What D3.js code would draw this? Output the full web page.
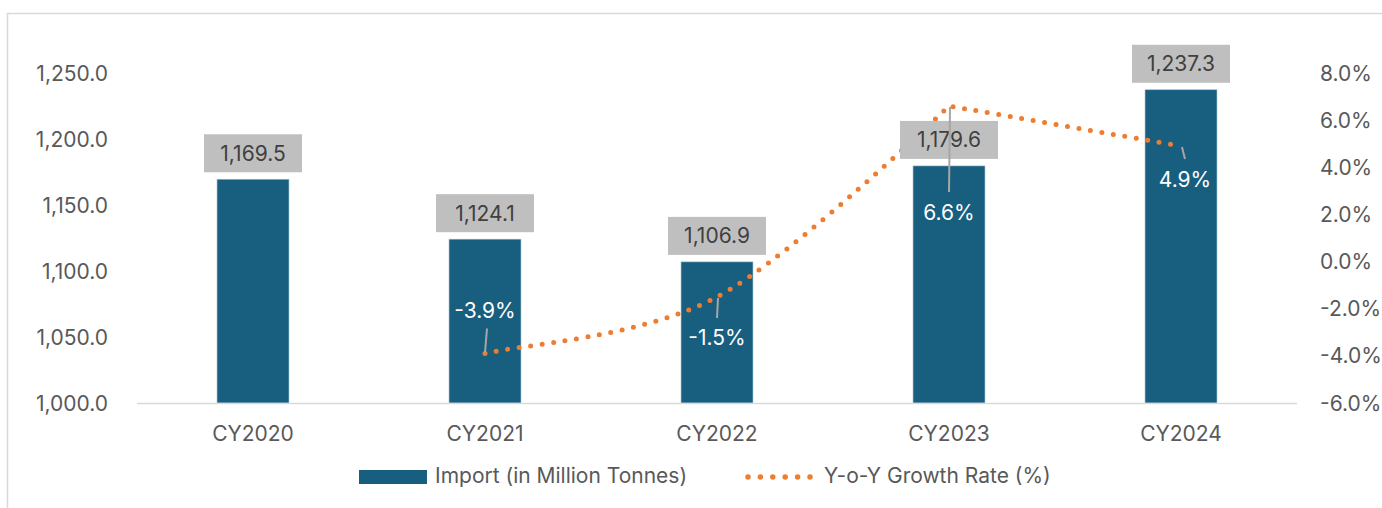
<!DOCTYPE html>
<html>
<head>
<meta charset="utf-8">
<script src="https://d3js.org/d3.v7.min.js"></script>
<style>
body { margin: 0; background: #fff; }
svg { display: block; font-family: Inter, "Liberation Sans", sans-serif; }
</style>
</head>
<body>
<div id="chart"></div>
<script>
// chart values
var years = ["CY2020", "CY2021", "CY2022", "CY2023", "CY2024"];
var imports = [1169.5, 1124.1, 1106.9, 1179.6, 1237.3];
var growth = [null, -3.9, -1.5, 6.6, 4.9];
var leftTicks = [1000, 1050, 1100, 1150, 1200, 1250];
var rightTicks = [-6, -4, -2, 0, 2, 4, 6, 8];
var legendNames = ["Import (in Million Tonnes)", "Y-o-Y Growth Rate (%)"];

var width = 1382, height = 508;
var plotLeft = 137, plotRight = 1297, plotTop = 73, plotBottom = 403;
var barColor = "#175e7f", lineColor = "#ed7d31";

var svg = d3.select("#chart").append("svg")
  .attr("width", width).attr("height", height);

// frame (only top and left edges show in the crop)
svg.append("path")
  .attr("d", "M7.5," + height + "V13.5H" + width)
  .attr("fill", "none").attr("stroke", "#d9d9d9").attr("stroke-width", 1.5);

var x = d3.scaleBand().domain(years).range([plotLeft, plotRight])
  .paddingInner(0.69).paddingOuter(0.345);
var yL = d3.scaleLinear().domain([1000, 1250]).range([plotBottom, plotTop]);
var yR = d3.scaleLinear().domain([-6, 8]).range([plotBottom, plotTop]);
var cx = function (d) { return x(d) + x.bandwidth() / 2; };

// plain hyphen for negatives, like Excel
var locale = d3.formatLocale({ decimal: ".", thousands: ",", grouping: [3], currency: ["", ""], minus: "-" });
var fmtL = locale.format(",.1f");
var fmt1 = locale.format(".1f");
var fmtR = function (v) { return fmt1(v) + "%"; };

// left axis labels
svg.append("g").selectAll("text").data(leftTicks).enter().append("text")
  .attr("x", 108).attr("y", function (d) { return yL(d); }).attr("dy", "0.36em")
  .attr("text-anchor", "end").attr("fill", "#595959").style("font-size", "21px")
  .text(fmtL);

// right axis labels
svg.append("g").selectAll("text").data(rightTicks).enter().append("text")
  .attr("x", 1320).attr("y", function (d) { return yR(d); }).attr("dy", "0.36em")
  .attr("fill", "#595959").style("font-size", "21px")
  .text(fmtR);

// bars
svg.append("g").selectAll("rect").data(years).enter().append("rect")
  .attr("x", function (d) { return x(d); })
  .attr("y", function (d, i) { return yL(imports[i]); })
  .attr("width", x.bandwidth())
  .attr("height", function (d, i) { return plotBottom - yL(imports[i]); })
  .attr("fill", barColor).attr("stroke", "#9dbccc").attr("stroke-width", 0.6);

// category axis
svg.append("line").attr("x1", plotLeft).attr("x2", plotRight)
  .attr("y1", plotBottom + 0.5).attr("y2", plotBottom + 0.5)
  .attr("stroke", "#d9d9d9").attr("stroke-width", 1.5);
svg.append("g").selectAll("text").data(years).enter().append("text")
  .attr("x", cx).attr("y", 441).attr("text-anchor", "middle")
  .attr("fill", "#595959").style("font-size", "21px").text(function (d) { return d; });

// growth line: bezier smoothing roughly like Excel's "smoothed line"
// (catmull-rom tangents, no tangent at a peak so it doesn't overshoot)
var pts = [];
years.forEach(function (d, i) {
  if (growth[i] !== null) pts.push([cx(d), yR(growth[i])]);
});
function smoothPath(p) {
  var n = p.length, tan = [];
  for (var i = 0; i < n; i++) {
    var a = p[Math.max(i - 1, 0)], b = p[Math.min(i + 1, n - 1)];
    var t = [(b[0] - a[0]) / 6, (b[1] - a[1]) / 6];
    if (i > 0 && i < n - 1 && (p[i][1] - a[1]) * (b[1] - p[i][1]) < 0) t = [0, 0];
    tan.push(t);
  }
  var path = d3.path();
  path.moveTo(p[0][0], p[0][1]);
  for (var j = 1; j < n; j++) {
    path.bezierCurveTo(p[j - 1][0] + tan[j - 1][0], p[j - 1][1] + tan[j - 1][1],
      p[j][0] - tan[j][0], p[j][1] - tan[j][1], p[j][0], p[j][1]);
  }
  return path.toString();
}
svg.append("path").attr("d", smoothPath(pts))
  .attr("fill", "none").attr("stroke", lineColor).attr("stroke-width", 5)
  .attr("stroke-linecap", "round").attr("stroke-dasharray", "0 11.6");

// value label boxes
var vl = svg.append("g").selectAll("g").data(years).enter().append("g");
vl.each(function (d, i) {
  var g = d3.select(this);
  var bw = 98, bh = 38;
  var by = yL(imports[i]) - 7 - bh;
  g.append("rect").attr("x", cx(d) - bw / 2).attr("y", by).attr("width", bw).attr("height", bh)
    .attr("fill", "#bfbfbf");
  g.append("text").attr("x", cx(d)).attr("y", by + bh / 2).attr("dy", "0.36em")
    .attr("text-anchor", "middle").attr("fill", "#404040").style("font-size", "21px")
    .text(fmtL(imports[i]));
});

// growth labels, placed like the original with leader lines
var labelDx = [0, 0, 0, 0, 4];
var labelDy = [0, -43, 41, 106, 33];
years.forEach(function (d, i) {
  if (growth[i] === null) return;
  var px = cx(d), py = yR(growth[i]);
  var lx = px + labelDx[i], ly = py + labelDy[i];
  var above = labelDy[i] < 0;
  var endY = above ? ly + 18 : ly - 20;
  svg.append("line").attr("x1", px + (above ? 0 : 1)).attr("y1", py + (above ? -1 : 1))
    .attr("x2", lx + (above ? 2 : 0)).attr("y2", endY)
    .attr("stroke", "#a6a6a6").attr("stroke-width", 2);
  svg.append("text").attr("x", lx).attr("y", ly).attr("dy", "0.36em")
    .attr("text-anchor", "middle").attr("fill", "#fff").style("font-size", "21px")
    .text(fmtR(growth[i]));
});

// legend
var lg = svg.append("g");
lg.append("rect").attr("x", 359).attr("y", 470).attr("width", 68).attr("height", 14).attr("fill", barColor);
lg.append("text").attr("x", 435).attr("y", 483).attr("fill", "#595959").style("font-size", "21px").text(legendNames[0]);
lg.append("line").attr("x1", 748).attr("x2", 810).attr("y1", 477).attr("y2", 477)
  .attr("stroke", lineColor).attr("stroke-width", 5.5).attr("stroke-linecap", "round")
  .attr("stroke-dasharray", "0 12.4");
lg.append("text").attr("x", 824).attr("y", 483).attr("fill", "#595959").style("font-size", "21px").text(legendNames[1]);
</script>
</body>
</html>
